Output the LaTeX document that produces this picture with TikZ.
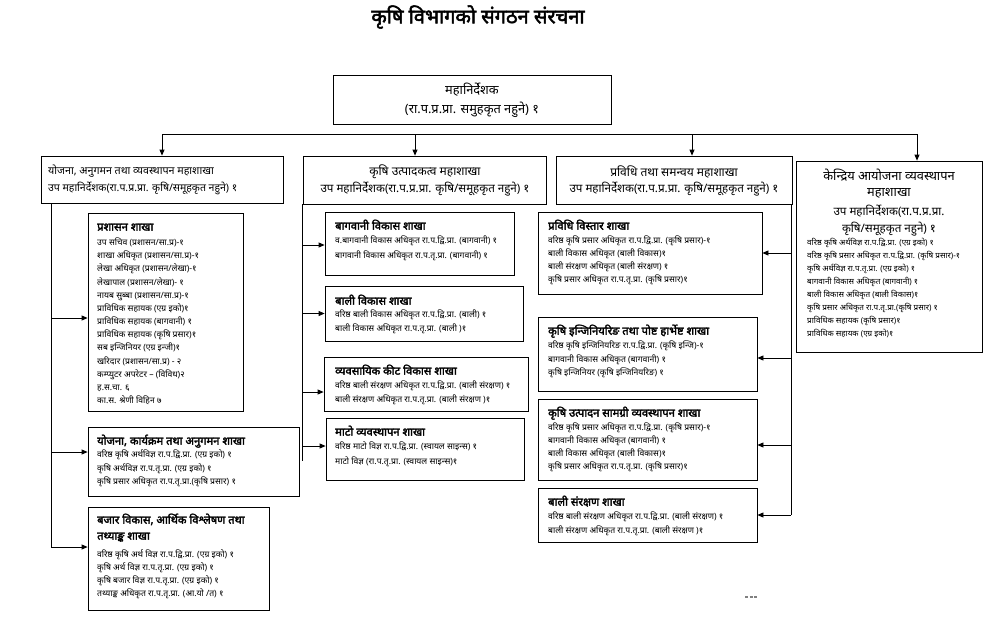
\documentclass[tikz,border=0pt]{standalone}
\usepackage{fontspec}
\setmainfont{Noto Sans}[Script=Devanagari]
\newfontfamily\bdev{Noto Sans}[Script=Devanagari, FakeBold=2.5]
\usetikzlibrary{arrows.meta,fit}
\newcommand\lst[5]{\foreach \q [count=\i from 0] in {#5} {\node[itm] (#1-\i) at (#2,{#3+\i*#4}) {\q};}}
\begin{document}
\begin{tikzpicture}[x=1pt,y=-1pt,
  box/.style={draw, line width=0.8pt, inner sep=0pt},
  conn/.style={line width=0.8pt},
  arr/.style={line width=0.8pt, -{Triangle[length=6pt,width=5pt]}},
  itm/.style={font=\fontsize{8.6}{9}\selectfont, inner sep=0pt, anchor=mid west},
  itms/.style={itm, font=\fontsize{8.1}{9}\selectfont},
  ttl/.style={font=\bdev\fontsize{11.2}{12}\selectfont, inner sep=0pt, anchor=mid west},
  hd/.style={font=\fontsize{12}{13}\selectfont, inner sep=0pt},
  hdb/.style={font=\fontsize{11.6}{13}\selectfont, inner sep=0pt},
  hdt/.style={font=\fontsize{12.8}{14}\selectfont, inner sep=0pt},
  hds/.style={font=\fontsize{10.7}{12}\selectfont, inner sep=0pt, anchor=mid west}]
\useasboundingbox (0,0) rectangle (985,616);

% title
\node[font=\bdev\fontsize{20}{22}\selectfont, inner sep=0pt] (title) at (478,17) {कृषि विभागको संगठन संरचना};

% top box
\node[box, fit={(333,75) (611,124)}] (T) {};
\node[hdt] (T1) at (472,90) {महानिर्देशक};
\node[hdt] (T2) at (472,110) {(रा.प.प्र.प्रा. समुहकृत नहुने) १};

% level 2 boxes
\node[box, fit={(41,156) (283,203)}] (B1) {};
\node[hds] (B1a) at (48,172) {योजना, अनुगमन तथा व्यवस्थापन महाशाखा};
\node[hds, font=\fontsize{10.5}{12}\selectfont] (B1b) at (48,189) {उप महानिर्देशक(रा.प.प्र.प्रा. कृषि/समूहकृत नहुने) १};

\node[box, fit={(303,156) (546,204)}] (B2) {};
\node[hd] (B2a) at (425,172) {कृषि उत्पादकत्व महाशाखा};
\node[hdb] (B2b) at (425,189) {उप महानिर्देशक(रा.प.प्र.प्रा. कृषि/समूहकृत नहुने) १};

\node[box, fit={(556,156) (792,204)}] (B3) {};
\node[hd] (B3a) at (674,172) {प्रविधि तथा समन्वय महाशाखा};
\node[hdb] (B3b) at (674,189) {उप महानिर्देशक(रा.प.प्र.प्रा. कृषि/समूहकृत नहुने) १};

\node[box, fit={(796,161) (982,352)}] (B4) {};
\node[hdt] (B4a) at (889,175) {केन्द्रिय आयोजना व्यवस्थापन};
\node[hdt] (B4b) at (889,193) {महाशाखा};
\node[hdb] (B4c) at (889,211) {उप महानिर्देशक(रा.प.प्र.प्रा.};
\node[hdb] (B4d) at (889,229) {कृषि/समूहकृत नहुने) १};
\foreach \q [count=\i from 0] in {वरिष्ठ कृषि अर्थविज्ञ रा.प.द्वि.प्रा. (एग्र इको) १,
 वरिष्ठ कृषि प्रसार अधिकृत रा.प.द्वि.प्रा. (कृषि प्रसार)-१,
 कृषि अर्थविज्ञ रा.प.तृ.प्रा. (एग्र इको) १,
 बागवानी विकास अधिकृत (बागवानी) १,
 बाली विकास अधिकृत (बाली विकास)१,
 कृषि प्रसार अधिकृत रा.प.तृ.प्रा.(कृषि प्रसार) १,
 प्राविधिक सहायक (कृषि प्रसार)१,
 प्राविधिक सहायक (एग्र इको)१}
 {\node[itms] (B4i-\i) at (807,{243+\i*13}) {\q};}

% top distribution line
\coordinate (hl) at (162,134);
\coordinate (h2) at (415,134);
\coordinate (h3) at (692,134);
\coordinate (hr) at (917,134);
\draw[conn] (hl) -- (hr);
\draw[arr] (hl) -- (hl |- B1.north);
\draw[arr] (h2) -- (h2 |- B2.north);
\draw[arr] (h3) -- (h3 |- B3.north);
\draw[arr] (hr) -- (hr |- B4.north);

% left column
\node[box, fit={(88,213) (243,411)}] (S1) {};
\node[ttl] (S1t) at (97,228) {प्रशासन शाखा};
\lst{S1i}{97}{243}{13.15}{उप सचिव (प्रशासन/सा.प्र)-१,
 शाखा अधिकृत (प्रशासन/सा.प्र)-१,
 लेखा अधिकृत (प्रशासन/लेखा)-१,
 लेखापाल (प्रशासन/लेखा)- १,
 नायब सुब्बा (प्रशासन/सा.प्र)-१,
 प्राविधिक सहायक (एग्र इको)१,
 प्राविधिक सहायक (बागवानी) १,
 प्राविधिक सहायक (कृषि प्रसार)१,
 सब इन्जिनियर (एग्र इन्जी)१,
 खरिदार (प्रशासन/सा.प्र) - २,
 कम्प्युटर अपरेटर – (विविध)२,
 ह.स.चा. ६,
 का.स. श्रेणी विहिन ७}

\node[box, fit={(88,427) (299,496)}] (S2) {};
\node[ttl] (S2t) at (97,442) {योजना, कार्यक्रम तथा अनुगमन शाखा};
\lst{S2i}{97}{455}{13.5}{वरिष्ठ कृषि अर्थविज्ञ रा.प.द्वि.प्रा. (एग्र इको) १,
 कृषि अर्थविज्ञ रा.प.तृ.प्रा. (एग्र इको) १,
 कृषि प्रसार अधिकृत रा.प.तृ.प्रा.(कृषि प्रसार) १}

\node[box, fit={(88,507) (269,610)}] (S3) {};
\node[ttl] (S3t) at (97,521) {बजार विकास, आर्थिक विश्लेषण तथा};
\node[ttl] (S3u) at (97,537) {तथ्याङ्क शाखा};
\lst{S3i}{97}{555}{12.8}{वरिष्ठ कृषि अर्थ विज्ञ रा.प.द्वि.प्रा. (एग्र इको) १,
 कृषि अर्थ विज्ञ रा.प.तृ.प्रा. (एग्र इको) १,
 कृषि बजार विज्ञ रा.प.तृ.प्रा. (एग्र इको) १,
 तथ्याङ्क अधिकृत रा.प.तृ.प्रा. (आ.यो /त) १}

\coordinate (lt) at (51,547);
\draw[conn] (B1.south -| lt) -- (lt);
\draw[arr] ([yshift=-6pt]S1.west -| lt) -- ([yshift=-6pt]S1.west);
\draw[arr] ([yshift=9.5pt]S2.west -| lt) -- ([yshift=9.5pt]S2.west);
\draw[arr] ([yshift=11.5pt]S3.west -| lt) -- ([yshift=11.5pt]S3.west);

% middle column
\node[box, fit={(325,212) (514,275)}] (M1) {};
\node[ttl] (M1t) at (335,227) {बागवानी विकास शाखा};
\lst{M1i}{335}{241}{15}{व.बागवानी विकास अधिकृत रा.प.द्वि.प्रा. (बागवानी) १,
 बागवानी विकास अधिकृत रा.प.तृ.प्रा. (बागवानी) १}

\node[box, fit={(325,286) (523,341)}] (M2) {};
\node[ttl] (M2t) at (335,302) {बाली विकास शाखा};
\lst{M2i}{335}{315}{14}{वरिष्ठ बाली विकास अधिकृत रा.प.द्वि.प्रा. (बाली) १,
 बाली विकास अधिकृत रा.प.तृ.प्रा. (बाली )१}

\node[box, fit={(324,357) (528,411)}] (M3) {};
\node[ttl] (M3t) at (335,372) {व्यवसायिक कीट विकास शाखा};
\lst{M3i}{335}{386}{13.5}{वरिष्ठ बाली संरक्षण अधिकृत रा.प.द्वि.प्रा. (बाली संरक्षण) १,
 बाली संरक्षण अधिकृत रा.प.तृ.प्रा. (बाली संरक्षण )१}

\node[box, fit={(326,418) (524,480)}] (M4) {};
\node[ttl] (M4t) at (335,433) {माटो व्यवस्थापन शाखा};
\lst{M4i}{335}{447}{15}{वरिष्ठ माटो विज्ञ रा.प.द्वि.प्रा. (स्वायल साइन्स) १,
 माटो विज्ञ (रा.प.तृ.प्रा. (स्वायल साइन्स)१}

\coordinate (mt) at (302,461);
\draw[conn] (B2.south -| mt) -- (mt);
\draw[arr] ([yshift=-1.5pt]M1.west -| mt) -- ([yshift=-1.5pt]M1.west);
\draw[arr] (M2.west -| mt) -- (M2.west);
\draw[arr] ([yshift=-8pt]M3.west -| mt) -- ([yshift=-8pt]M3.west);
\draw[arr] ([yshift=3pt]M4.west -| mt) -- ([yshift=3pt]M4.west);

% right column
\node[box, fit={(538,212) (762,294)}] (R1) {};
\node[ttl] (R1t) at (548,227) {प्रविधि विस्तार शाखा};
\lst{R1i}{548}{241}{13}{वरिष्ठ कृषि प्रसार अधिकृत रा.प.द्वि.प्रा. (कृषि प्रसार)-१,
 बाली विकास अधिकृत (बाली विकास)१,
 बाली संरक्षण अधिकृत (बाली संरक्षण) १,
 कृषि प्रसार अधिकृत रा.प.तृ.प्रा. (कृषि प्रसार)१}

\node[box, fit={(538,317) (757,391)}] (R2) {};
\node[ttl] (R2t) at (548,332) {कृषि इन्जिनियरिङ तथा पोष्ट हार्भेष्ट शाखा};
\lst{R2i}{548}{346}{13.5}{वरिष्ठ कृषि इन्जिनियरिङ रा.प.द्वि.प्रा. (कृषि इन्जि)-१,
 बागवानी विकास अधिकृत (बागवानी) १,
 कृषि इन्जिनियर (कृषि इन्जिनियरिङ) १}

\node[box, fit={(538,399) (757,480)}] (R3) {};
\node[ttl] (R3t) at (548,414) {कृषि उत्पादन सामग्री व्यवस्थापन शाखा};
\lst{R3i}{548}{428}{13}{वरिष्ठ कृषि प्रसार अधिकृत रा.प.द्वि.प्रा. (कृषि प्रसार)-१,
 बागवानी विकास अधिकृत (बागवानी) १,
 बाली विकास अधिकृत (बाली विकास)१,
 कृषि प्रसार अधिकृत रा.प.तृ.प्रा. (कृषि प्रसार)१}

\node[box, fit={(538,488) (757,542)}] (R4) {};
\node[ttl] (R4t) at (548,503) {बाली संरक्षण शाखा};
\lst{R4i}{548}{517}{14}{वरिष्ठ बाली संरक्षण अधिकृत रा.प.द्वि.प्रा. (बाली संरक्षण) १,
 बाली संरक्षण अधिकृत रा.प.तृ.प्रा. (बाली संरक्षण )१}

\coordinate (rt) at (791,515);
\draw[conn] (B3.south -| rt) -- (rt);
\draw[arr] (R1.east -| rt) -- (R1.east);
\draw[arr] ([yshift=-4pt]R2.east -| rt) -- ([yshift=-4pt]R2.east);
\draw[arr] ([yshift=-5.5pt]R3.east -| rt) -- ([yshift=-5.5pt]R3.east);
\draw[arr] (R4.east -| rt) -- (R4.east);

% stray mark
\draw[gray, line width=1.2pt, dash pattern=on 3pt off 1.5pt] (745,597) -- (757,597);
\end{tikzpicture}
\end{document}
